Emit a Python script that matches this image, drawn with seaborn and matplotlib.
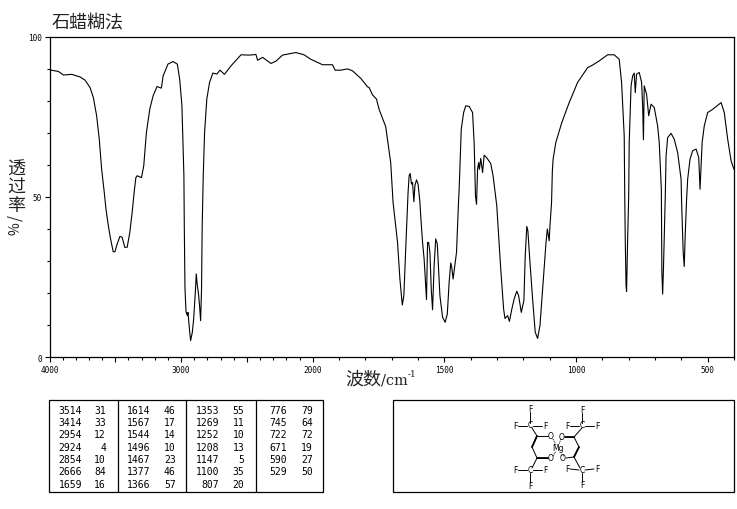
# IR spectrum, paraffin mull
import numpy as np
import pandas as pd
import seaborn as sns
import matplotlib
matplotlib.use('Agg')
import matplotlib.pyplot as plt
from matplotlib.patches import Rectangle

W, H = 737, 510

wavenumber = [
    4000, 3932, 3894, 3831, 3768, 3730, 3692, 3667, 3642, 3622, 3604, 3584,
    3571, 3553, 3536, 3516, 3503, 3486, 3465, 3448, 3428, 3410, 3390, 3372, 3357,
    3344, 3334, 3301, 3284, 3264, 3238, 3213, 3183, 3150, 3137, 3100, 3062, 3029,
    3011, 2994, 2986, 2979, 2976, 2971, 2963, 2953, 2948, 2938, 2928, 2915, 2905,
    2893, 2885, 2878, 2868, 2860, 2852, 2845, 2840, 2835, 2832, 2822, 2805, 2784,
    2759, 2729, 2704, 2671, 2620, 2545, 2482, 2432, 2419, 2381, 2318, 2280, 2230,
    2129, 2066, 2015, 1963, 1925, 1915, 1894, 1868, 1849, 1817, 1792,
    1786, 1773, 1758, 1748, 1723, 1713, 1704, 1695, 1678, 1669, 1660, 1654, 1647, 1640,
    1638, 1634, 1630, 1625, 1621, 1616, 1612, 1606, 1600, 1593, 1590, 1583, 1577,
    1571, 1568, 1564, 1560, 1555, 1550, 1545, 1539, 1533, 1527, 1522, 1517, 1507,
    1497, 1489, 1482, 1476, 1472, 1467, 1462, 1454, 1447, 1444, 1436, 1427, 1419,
    1406, 1393, 1387, 1382, 1378, 1374, 1370, 1367, 1362, 1355, 1349, 1340, 1324,
    1315, 1301, 1298, 1286, 1275, 1270, 1260, 1253, 1244, 1235, 1225, 1218, 1208,
    1198, 1193, 1187, 1183, 1175, 1165, 1155, 1146, 1137, 1127, 1114, 1109, 1102,
    1099, 1093, 1090, 1087, 1077, 1054, 1026, 994, 956, 937, 912, 880, 855, 836, 827,
    817, 815, 813, 810, 808, 804, 800, 798, 791, 785, 779, 775, 770, 760, 751, 747,
    744, 741, 732, 724, 715, 703, 690, 684, 676, 674, 671, 668, 661, 658, 652, 639,
    627, 614, 601, 599, 593, 589, 585, 580, 576, 567, 557, 544, 534, 529, 521, 513,
    500, 481, 449, 437, 424, 411, 400,
]
transmittance = [
    89.6, 89.1, 88.0, 88.2, 87.4, 86.4, 84.1, 81.0, 75.3, 68.0, 58.7, 51.4,
    46.2, 41.0, 36.9, 32.9, 32.9, 35.3, 37.7, 37.4, 34.3, 34.3, 38.9, 45.2, 51.4,
    56.0, 56.6, 56.0, 59.7, 70.0, 77.4, 81.5, 84.4, 83.9, 87.7, 91.4, 92.2, 91.4,
    86.7, 78.4, 67.0, 56.6, 41.0, 21.8, 14.2, 13.0, 14.0, 9.3, 5.2, 7.8, 11.9,
    19.7, 26.0, 22.8, 19.7, 16.1, 11.4, 21.3, 41.0, 51.4, 56.6, 70.0, 80.5, 85.7,
    88.6, 88.3, 89.5, 88.2, 90.9, 94.3, 94.2, 94.4, 92.6, 93.5, 91.6, 92.3, 94.2,
    95.0, 94.3, 92.9, 91.2, 91.2, 89.5, 89.5, 89.9, 89.3, 86.9, 84.3,
    84.1, 81.8, 80.5, 77.3, 71.9, 65.9, 60.7, 48.3, 35.8, 24.4, 16.3, 19.2, 33.7, 47.2,
    51.4, 56.6, 57.3, 54.0, 54.5, 48.5, 53.5, 55.3, 54.0, 48.3, 44.1, 35.8, 30.6,
    22.3, 18.0, 35.8, 35.8, 32.7, 21.3, 14.8, 28.6, 36.9, 35.3, 27.5, 19.2, 12.5,
    10.9, 13.5, 23.4, 29.4, 28.0, 24.4, 27.5, 32.7, 47.2, 52.4, 71.1, 76.3, 78.4,
    78.2, 76.3, 66.9, 50.3, 47.7, 58.6, 60.7, 58.6, 62.0, 57.6, 63.0, 62.3, 60.4,
    56.5, 47.2, 43.1, 27.5, 15.0, 12.1, 13.0, 11.2, 15.0, 18.2, 20.6, 19.2, 14.0,
    17.7, 31.7, 40.8, 39.5, 29.6, 18.2, 7.8, 5.9, 9.9, 21.3, 35.8, 40.0, 36.3,
    41.0, 48.3, 58.0, 61.8, 66.9, 73.2, 79.4, 85.7, 90.3, 91.1, 92.4, 94.3, 94.3, 92.9, 85.7,
    69.0, 50.3, 36.3, 22.3, 20.5, 36.9, 50.4, 67.0, 84.6, 87.7, 88.6, 82.5, 88.3, 88.8, 85.7, 78.4,
    67.8, 84.6, 82.0, 75.3, 78.9, 77.9, 72.1, 67.0, 52.4, 26.5, 19.7, 27.5, 50.4, 62.8, 68.5, 69.8,
    68.0, 63.8, 55.5, 48.3, 32.7, 28.3, 38.9, 49.3, 55.5, 61.8, 64.4, 64.9, 62.3, 52.4, 67.0, 72.1,
    76.3, 77.3, 79.4, 76.3, 68.0, 61.2, 58.6,
]

peakColumns = [
    [('3514', '31'), ('3414', '33'), ('2954', '12'), ('2924', '4'), ('2854', '10'), ('2666', '84'), ('1659', '16')],
    [('1614', '46'), ('1567', '17'), ('1544', '14'), ('1496', '10'), ('1467', '23'), ('1377', '46'), ('1366', '57')],
    [('1353', '55'), ('1269', '11'), ('1252', '10'), ('1208', '13'), ('1147', '5'), ('1100', '35'), ('807', '20')],
    [('776', '79'), ('745', '64'), ('722', '72'), ('671', '19'), ('590', '27'), ('529', '50')],
]

# structure sketch, pixel positions of the picture
atoms = [
    ('F', 530, 410), ('F', 515, 427), ('C', 530, 426), ('F', 545, 427),
    ('F', 582, 411), ('F', 567, 427), ('C', 582, 426), ('F', 597, 427),
    ('F', 515, 471), ('C', 530, 471), ('F', 545, 471), ('F', 530, 487),
    ('F', 567, 470), ('C', 582, 471), ('F', 597, 470), ('F', 582, 486),
    ('O', 551, 437), ('O', 551, 459), ('O', 562, 438), ('O', 563, 459), ('Mg', 558, 449),
]
bonds = [
    (530, 413, 530, 424), (518, 427, 527, 427), (533, 427, 542, 427),
    (582, 414, 582, 424), (570, 427, 579, 427), (585, 427, 594, 427),
    (518, 471, 527, 471), (533, 471, 542, 471), (530, 474, 530, 484),
    (570, 470, 579, 471), (585, 471, 594, 470), (582, 474, 582, 483),
    (532, 429, 537, 437), (537, 437, 548, 437), (537, 437, 532, 448), (532, 448, 537, 459),
    (537, 459, 548, 459), (537, 459, 532, 469),
    (582, 429, 574, 438), (574, 438, 565, 438), (574, 438, 579, 448), (579, 448, 574, 458),
    (574, 458, 566, 459), (574, 458, 580, 469),
]
thickBonds = [(537, 437, 532, 448), (537, 459, 548, 459), (574, 438, 565, 438), (579, 448, 574, 458)]
dashBonds = [(553, 440, 556, 446), (553, 457, 556, 452), (561, 440, 559, 445), (561, 456, 564, 457)]


def forward(x):
    x = np.asarray(x, dtype=float)
    return np.where(x < 2000, x, 2000 + (x - 2000) / 2)


def inverse(x):
    x = np.asarray(x, dtype=float)
    return np.where(x < 2000, x, 2000 + (x - 2000) * 2)


sns.set_theme(style='ticks')
cjk = ['Noto Sans CJK SC', 'DejaVu Sans']
plt.rcParams['font.family'] = cjk

df = pd.DataFrame({'wavenumber': wavenumber, 'transmittance': transmittance})

fig = plt.figure(figsize=(W / 100, H / 100), dpi=100)
ax = fig.add_axes([49.5 / W, 1 - 358.3 / H, (734 - 49.5) / W, (358.3 - 37.5) / H])
ax.set_xscale('function', functions=(forward, inverse))
sns.lineplot(data=df, x='wavenumber', y='transmittance', sort=False, estimator=None,
             color='black', linewidth=0.8, ax=ax)
ax.set_xlim(4000, 400)
ax.set_ylim(0, 100)
ax.set_xlabel('')
ax.set_ylabel('')

ax.set_xticks([4000, 3500, 3000, 2500, 2000, 1500, 1000, 500])
ax.set_xticklabels(['4000', '', '3000', '', '2000', '1500', '1000', '500'])
ax.set_xticks(np.arange(400, 4001, 100), minor=True)
ax.set_yticks([0, 50, 100])
ax.set_yticks(np.arange(0, 101, 10), minor=True)
ax.tick_params(axis='both', which='major', length=3.6, width=0.8, color='black', pad=2)
ax.tick_params(axis='both', which='minor', length=2, width=0.8, color='black')
for label in ax.get_xticklabels() + ax.get_yticklabels():
    label.set_family('DejaVu Sans Mono')
    label.set_fontsize(5.6)
    label.set_color('black')
for side in ax.spines.values():
    side.set_color('black')
    side.set_linewidth(0.9)

# everything outside the plot goes on a pixel-sized overlay
over = fig.add_axes([0, 0, 1, 1])
over.set_xlim(0, W)
over.set_ylim(H, 0)
over.axis('off')
over.patch.set_alpha(0)

over.text(52, 23, '石蜡糊法', fontsize=13, va='center', ha='left', color='#222222')
over.text(345, 380, '波数', fontsize=13, va='center', ha='left', color='#222222')
over.text(381, 381, '/cm', family='DejaVu Serif', fontsize=10.5, va='center', ha='left', color='#222222')
over.text(408, 375, '-1', family='DejaVu Serif', fontsize=6.5, va='center', ha='left', color='#222222')
for ch, yy in zip('透过率', [170, 188, 206]):
    over.text(16, yy, ch, fontsize=13, va='center', ha='center', color='#222222', fontweight='medium')
over.text(16, 218, '/', fontsize=11, va='center', ha='center', rotation=90, color='#222222')
over.text(16, 229, '%', fontsize=10, va='center', ha='center', rotation=90, color='#222222')

# peak table
over.add_patch(Rectangle((49.3, 401.3), 274, 92, fill=False, ec='black', lw=0.9))
for xDiv in [118.3, 186.3, 255.7]:
    over.plot([xDiv, xDiv], [401.3, 493.3], color='black', lw=0.9)
wnRight = [82.3, 150.7, 219.3, 287.3]
tRight = [106, 175.7, 244.3, 312.7]
for col, rows in enumerate(peakColumns):
    for row, (wn, t) in enumerate(rows):
        yy = 410.7 + row * 12.33
        over.text(wnRight[col], yy, wn, family='DejaVu Sans Mono', fontsize=7, ha='right', va='center', color='black')
        over.text(tRight[col], yy, t, family='DejaVu Sans Mono', fontsize=7, ha='right', va='center', color='black')

# structure box
over.add_patch(Rectangle((392.7, 401.3), 341.3, 92, fill=False, ec='black', lw=0.9))
for x0, y0, x1, y1 in bonds:
    over.plot([x0, x1], [y0, y1], color='black', lw=0.7)
for x0, y0, x1, y1 in thickBonds:
    over.plot([x0, x1], [y0, y1], color='black', lw=1.3)
for x0, y0, x1, y1 in dashBonds:
    over.plot([x0, x1], [y0, y1], color='black', lw=0.7, ls=(0, (1, 1)))
for name, xx, yy in atoms:
    over.text(xx, yy, name, family='DejaVu Sans', fontsize=5.5, ha='center', va='center', color='black')

plt.savefig('out.png', dpi=100)
plt.close()
